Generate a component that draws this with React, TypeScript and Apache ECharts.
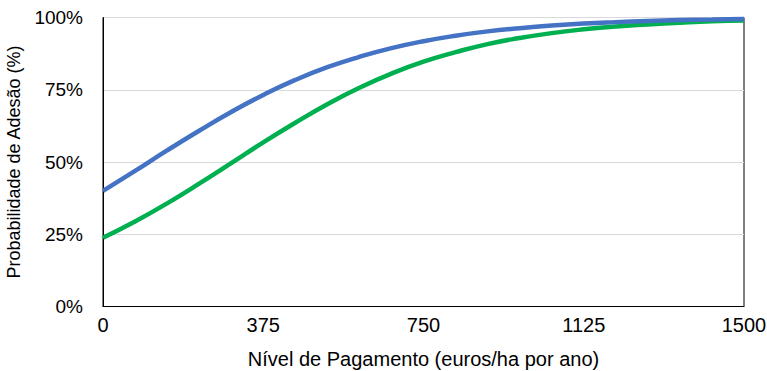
import React, { useEffect, useRef } from "react";
import * as echarts from "echarts";

const payments = [0, 75, 150, 225, 300, 375, 450, 525, 600, 675, 750, 825, 900, 975, 1050, 1125, 1200, 1275, 1350, 1425, 1500];
const blueSeries = [40.0, 46.9, 54.0, 60.8, 67.3, 73.2, 78.4, 82.8, 86.4, 89.4, 91.8, 93.7, 95.2, 96.3, 97.2, 97.9, 98.4, 98.8, 99.1, 99.3, 99.5];
const greenSeries = [23.8, 29.4, 35.7, 42.5, 49.6, 56.8, 63.6, 70.0, 75.7, 80.6, 84.7, 88.0, 90.8, 92.9, 94.6, 95.9, 96.9, 97.6, 98.2, 98.7, 99.0];

const font = "Liberation Sans, Arial, sans-serif";

export default function App() {
  const ref = useRef<HTMLDivElement>(null);
  useEffect(() => {
    if (!ref.current) return;
    const chart = echarts.init(ref.current, null, { renderer: "svg" });
    chart.setOption({
      animation: false,
      backgroundColor: "#ffffff",
      grid: {
        left: 103,
        right: 23,
        top: 17.5,
        bottom: 64.5,
        containLabel: false,
        outerBoundsMode: "none",
        show: true,
        borderColor: "#000000",
        borderWidth: 1,
      },
      xAxis: {
        type: "value",
        min: 0,
        max: 1500,
        interval: 375,
        name: "Nível de Pagamento (euros/ha por ano)",
        nameLocation: "middle",
        nameGap: 42,
        nameTextStyle: { fontFamily: font, fontSize: 20, color: "#000" },
        axisLine: { show: true, lineStyle: { color: "#000", width: 1 } },
        axisTick: { show: false },
        splitLine: { show: false },
        axisLabel: {
          fontFamily: font,
          fontSize: 20,
          color: "#000",
          margin: 8,
          formatter: (v: number) => String(v),
        },
      },
      yAxis: {
        type: "value",
        min: 0,
        max: 100,
        interval: 25,
        name: "Probabilidade de Adesão (%)",
        nameLocation: "middle",
        nameGap: 80,
        nameTextStyle: { fontFamily: font, fontSize: 18, color: "#000" },
        axisLine: { show: true, lineStyle: { color: "#000", width: 1 } },
        axisTick: { show: false },
        splitLine: { show: true, lineStyle: { color: "#d9d9d9", width: 1 } },
        axisLabel: {
          fontFamily: font,
          fontSize: 19,
          color: "#000",
          margin: 20,
          formatter: (v: number) => v + "%",
        },
      },
      series: [
        {
          type: "line",
          data: payments.map((x, i) => [x, greenSeries[i]]),
          smooth: true,
          showSymbol: false,
          lineStyle: { color: "#00B050", width: 4.5 },
          itemStyle: { color: "#00B050" },
        },
        {
          type: "line",
          data: payments.map((x, i) => [x, blueSeries[i]]),
          smooth: true,
          showSymbol: false,
          lineStyle: { color: "#4472C4", width: 4.5 },
          itemStyle: { color: "#4472C4" },
        },
      ],
    });
    return () => chart.dispose();
  }, []);
  return (
    <div
      ref={ref}
      style={{ position: "fixed", left: 0, top: 0, width: 767, height: 371, background: "#fff" }}
    />
  );
}
